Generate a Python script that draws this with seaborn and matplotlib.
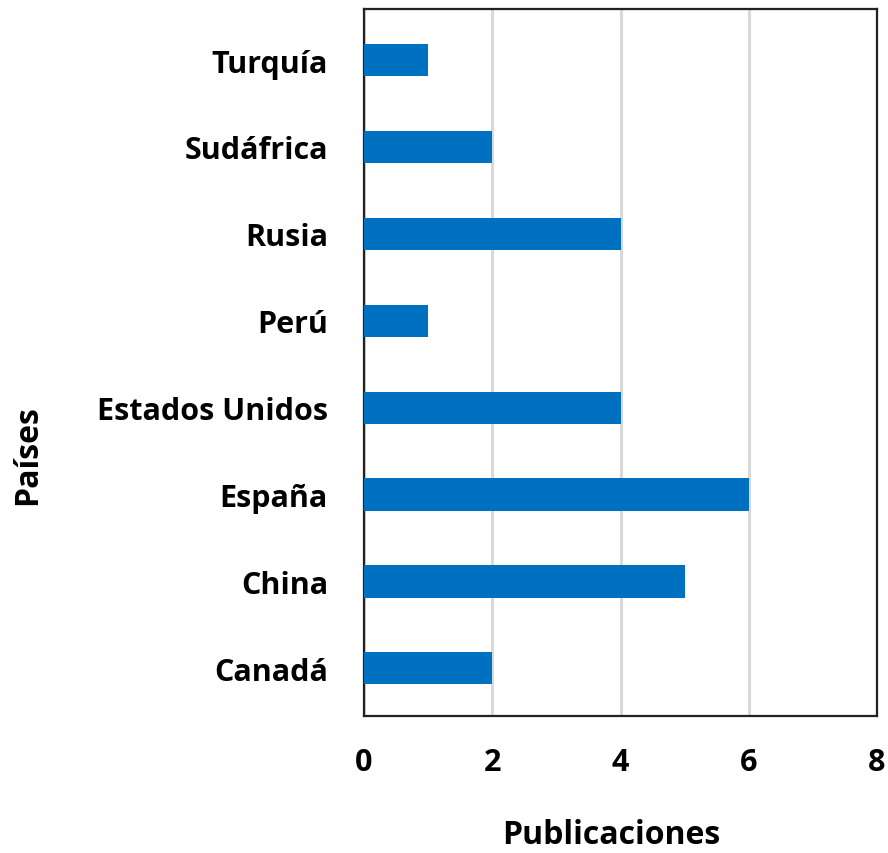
import matplotlib
matplotlib.use("Agg")
import matplotlib.pyplot as plt
import seaborn as sns
import pandas as pd

paises = ["Turquía", "Sudáfrica", "Rusia", "Perú", "Estados Unidos", "España", "China", "Canadá"]
publicaciones = [1, 2, 4, 1, 4, 6, 5, 2]
x_ticks = [0, 2, 4, 6, 8]

df = pd.DataFrame({"Países": paises, "Publicaciones": publicaciones})

sns.set_theme(style="white")
plt.rcParams["font.family"] = ["Open Sans", "DejaVu Sans"]

fig = plt.figure(figsize=(8.88, 8.54), dpi=100)
ax = fig.add_axes([364 / 888, 1 - 717 / 854, (877 - 364) / 888, (717 - 10) / 854])

sns.barplot(data=df, x="Publicaciones", y="Países", order=paises, orient="h",
            color="#0070C0", width=0.37, saturation=1, linewidth=0, ax=ax, zorder=3)

ax.set_xlim(0, 8)
ax.set_ylim(7.548, -0.587)
ax.set_xticks(x_ticks)
ax.set_xticklabels([str(t) for t in x_ticks], fontsize=22, fontweight="bold", color="black")
ax.set_yticklabels(paises, fontsize=22, fontweight="bold", color="black")
ax.tick_params(axis="x", length=0, pad=22)
ax.tick_params(axis="y", length=0, pad=26)

ax.xaxis.grid(True, color="#d9d9d9", linewidth=2.2, zorder=0)
ax.set_axisbelow(True)
for s in ax.spines.values():
    s.set_visible(True)
    s.set_color("#222222")
    s.set_linewidth(1.6)

ax.set_xlabel("Publicaciones", fontsize=23, fontweight="bold", color="black")
ax.set_ylabel("Países", fontsize=23, fontweight="bold", color="black")
ax.xaxis.set_label_coords((611 - 364) / 513, (717 - 836) / 707)
ax.xaxis.label.set_va("center")
ax.yaxis.set_label_coords((28 - 364) / 513, (717 - 455) / 707)
ax.yaxis.label.set_va("center")
ax.yaxis.label.set_ha("center")

fig.savefig("out.png", dpi=100)
